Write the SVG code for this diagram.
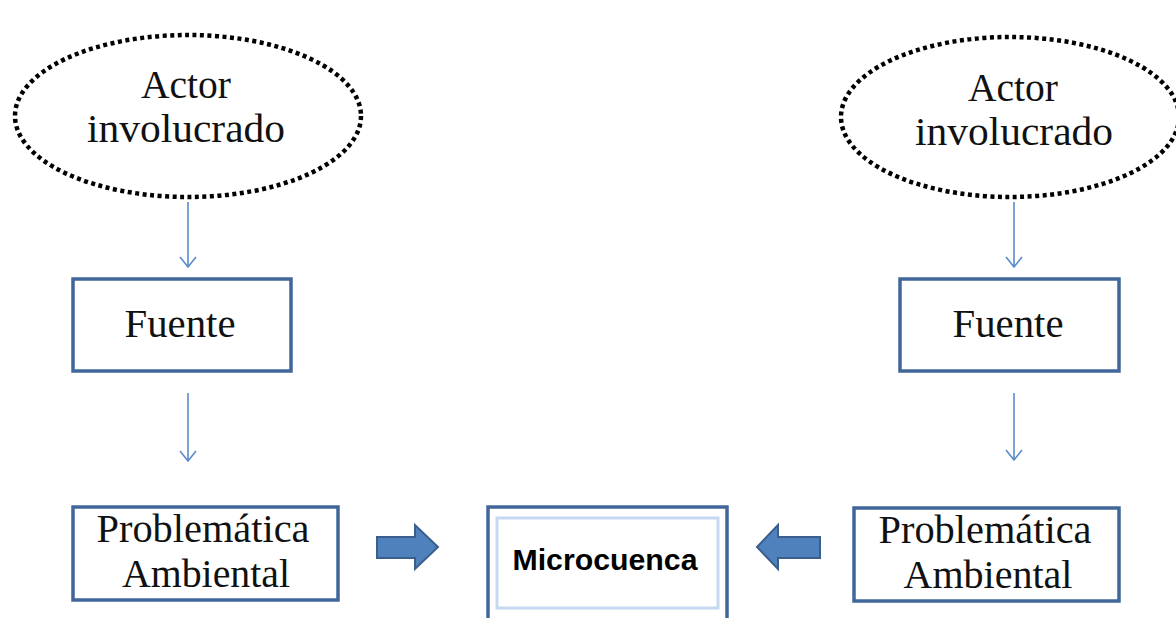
<svg xmlns="http://www.w3.org/2000/svg" width="1176" height="618" viewBox="0 0 1176 618">
<defs>
<style>
.actor{fill:none;stroke:#000;stroke-width:4.5;stroke-dasharray:4 3.5}
.box{fill:#fff;stroke:#41679a;stroke-width:3.5}
.t{font-family:"Liberation Serif",serif;font-size:39px;fill:#111;text-anchor:middle}
.m{font-family:"Liberation Sans",Arial,sans-serif;font-size:30px;font-weight:bold;fill:#000;text-anchor:middle}
.thin{stroke:#5b8bcb;stroke-width:1.6;fill:none}
.block{fill:#4f81bd;stroke:#3a5f8c;stroke-width:2;stroke-linejoin:miter}
</style>
</defs>
<rect width="1176" height="618" fill="#fff"/>
<g id="actor-left">
<ellipse class="actor" cx="188" cy="116" rx="173" ry="81"/>
<text class="t" x="186" y="98" textLength="90" lengthAdjust="spacingAndGlyphs">Actor</text>
<text class="t" x="186" y="142" textLength="198" lengthAdjust="spacingAndGlyphs">involucrado</text>
</g>
<g id="actor-right">
<ellipse class="actor" cx="1010" cy="117" rx="169" ry="80"/>
<text class="t" x="1013" y="101" textLength="90" lengthAdjust="spacingAndGlyphs">Actor</text>
<text class="t" x="1014" y="145" textLength="198" lengthAdjust="spacingAndGlyphs">involucrado</text>
</g>
<g id="fuente-left">
<rect class="box" x="73" y="279" width="218" height="92"/>
<text class="t" x="180" y="337" textLength="111" lengthAdjust="spacingAndGlyphs">Fuente</text>
</g>
<g id="fuente-right">
<rect class="box" x="900" y="279" width="219" height="92"/>
<text class="t" x="1008" y="337" textLength="111" lengthAdjust="spacingAndGlyphs">Fuente</text>
</g>
<g id="problematica-left">
<rect class="box" x="73" y="507" width="265" height="93"/>
<text class="t" x="203" y="542" textLength="213" lengthAdjust="spacingAndGlyphs">Problemática</text>
<text class="t" x="206" y="587" textLength="168" lengthAdjust="spacingAndGlyphs">Ambiental</text>
</g>
<g id="problematica-right">
<rect class="box" x="854" y="508" width="265" height="93"/>
<text class="t" x="985" y="543" textLength="213" lengthAdjust="spacingAndGlyphs">Problemática</text>
<text class="t" x="988" y="588" textLength="169" lengthAdjust="spacingAndGlyphs">Ambiental</text>
</g>
<g id="microcuenca">
<rect class="box" x="488" y="507" width="239" height="130"/>
<rect x="497" y="518" width="221" height="90" fill="#fff" stroke="#c6d9f1" stroke-width="3"/>
<text class="m" x="605" y="570" textLength="185" lengthAdjust="spacingAndGlyphs">Microcuenca</text>
</g>
<g id="connectors">
<path class="thin" d="M188 202V267M180 257L188 267L196 257"/>
<path class="thin" d="M1014 202V267M1006 257L1014 267L1022 257"/>
<path class="thin" d="M188 393V461M180 451L188 461L196 451"/>
<path class="thin" d="M1014 393V460M1006 450L1014 460L1022 450"/>
<path class="block" d="M377 537H415V525L438 547L415 569V558H377Z"/>
<path class="block" d="M820 537H778V525L757 547L778 569V558H820Z"/>
</g>
</svg>
